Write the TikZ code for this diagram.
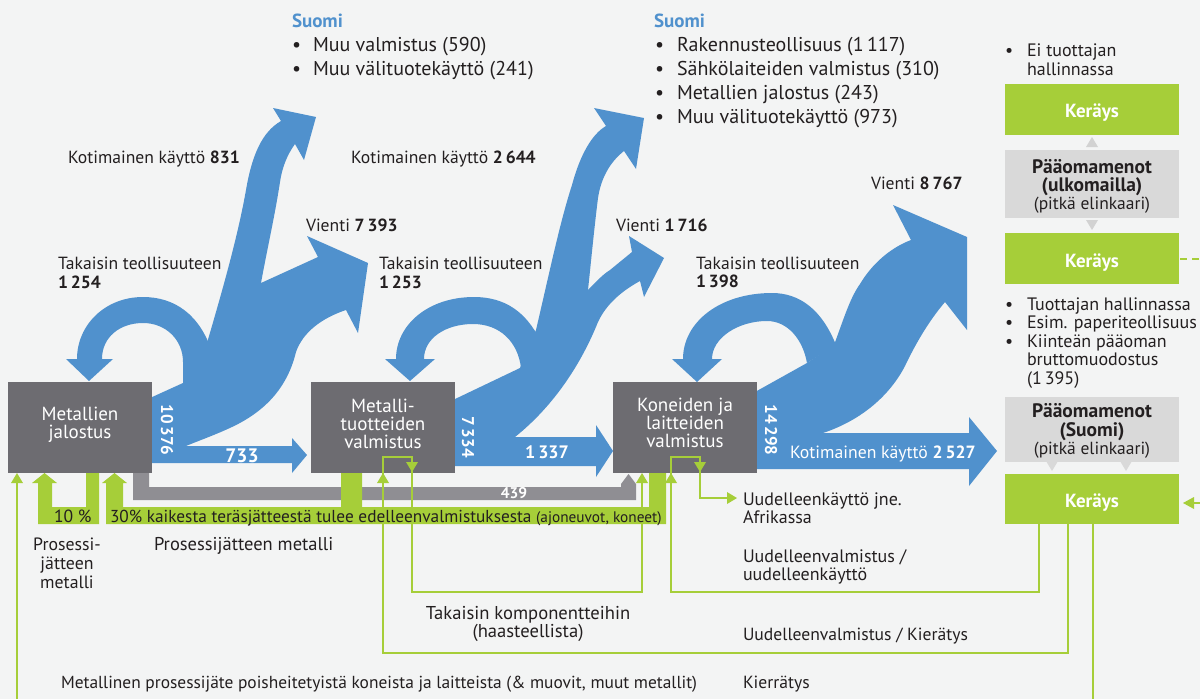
\documentclass[tikz,border=0pt]{standalone}
\usepackage{fontspec}
\setmainfont{PT Sans}
\definecolor{bg}{HTML}{F3F4F4}
\definecolor{fblue}{HTML}{5091CD}
\definecolor{dgrey}{HTML}{6D6C71}
\definecolor{mgrey}{HTML}{8F8E93}
\definecolor{lgrey}{HTML}{D9D9D9}
\definecolor{tgrey}{HTML}{D2D2D2}
\definecolor{fgreen}{HTML}{A6CE39}
\definecolor{txt}{HTML}{231F20}
\newcommand\gup[2]{\fill[fgreen] (#1-6,#2+10) -- (#1,#2) -- (#1+6,#2+10) -- cycle;}
\newcommand\gdown[2]{\fill[fgreen] (#1-6,#2-10) -- (#1,#2) -- (#1+6,#2-10) -- cycle;}
\newcommand\gright[2]{\fill[fgreen] (#1-10,#2-6) -- (#1,#2) -- (#1-10,#2+6) -- cycle;}
\newcommand\fsz[1]{\fontsize{#1}{#1}\selectfont}
\tikzset{
 t/.style={anchor=base west, inner sep=0pt, outer sep=0pt, text=txt},
 lab/.style={t, font=\fsz{17.6}},
 labc/.style={lab, anchor=base},
 lst/.style={t, font=\fsz{20}},
 hd/.style={t, text=fblue, font=\bfseries\fsz{19}},
 rc/.style={t, font=\fsz{18}},
 boxt/.style={t, anchor=base, text=white, font=\fsz{19}},
 num/.style={inner sep=0pt, text=white, font=\bfseries\fsz{17}},
 ker/.style={t, anchor=base, text=white, font=\bfseries\fsz{19}},
 ptx/.style={t, anchor=base, font=\fsz{17.5}},
 ptb/.style={t, anchor=base, font=\bfseries\fsz{19.5}},
 procbox/.style={fill=dgrey, minimum width=144pt, minimum height=91pt, inner sep=0pt},
 kbox/.style={fill=fgreen, minimum width=174pt, inner sep=0pt},
 pbox/.style={fill=lgrey, minimum width=174pt, inner sep=0pt},
 gline/.style={draw=fgreen, line width=2.5pt},
}
\begin{document}
\begin{tikzpicture}[x=1pt,y=-1pt]
\useasboundingbox (0,0) rectangle (1200,699);
\fill[bg] (0,0) rectangle (1200,699);

% ---------- blue flows ----------
\begin{scope}[fblue]
% trunk 1
\fill (150,398) -- (183,383) -- (183,358) -- (207,343)
 .. controls (224,285) and (238,235) .. (246,190)
 .. controls (252,155) and (262,132) .. (281,121)
 -- (273,108) -- (316,117) -- (304,160) -- (295,144)
 .. controls (287,155) and (282,168) .. (280,182)
 .. controls (275,215) and (267,250) .. (261,283)
 -- (318,257) -- (307,236) -- (368,263) -- (358,333) -- (346,310)
 .. controls (322,318) and (303,332) .. (296,352)
 .. controls (288,385) and (268,410) .. (232,427)
 .. controls (215,435) and (198,441) .. (186,446)
 -- (150,446) -- cycle;
\fill (150,446) -- (292,446) -- (292,438) -- (307,455) -- (292,473) -- (292,463) -- (150,463) -- cycle;
\fill (212,352) .. controls (200,315) and (175,297) .. (143,297)
 .. controls (105,297) and (77,325) .. (77,359) -- (66,359) -- (89,381) -- (113,359) -- (102,359)
 .. controls (102,337) and (120,323) .. (143,323)
 .. controls (166,323) and (183,340) .. (183,362) -- cycle;
% trunk 2
\fill (453,400) -- (520,368) -- (536,330)
 .. controls (550,270) and (560,222) .. (572,185)
 .. controls (580,155) and (592,134) .. (606,126)
 -- (594,108) -- (644,118) -- (636,169) -- (624,151)
 .. controls (610,162) and (601,178) .. (598,198)
 .. controls (594,230) and (591,262) .. (588,290)
 .. controls (596,282) and (602,275) .. (610,270)
 -- (632,252) -- (629,236) -- (664,258) -- (644,297) -- (640,281)
 .. controls (620,292) and (606,305) .. (598,322)
 .. controls (582,362) and (555,405) .. (515,437)
 -- (453,437) -- cycle;
\fill (453,437) -- (596,437) -- (596,425) -- (613,451) -- (596,477) -- (596,466) -- (453,466) -- cycle;
\fill (540,340) .. controls (526,312) and (505,297) .. (474,297)
 .. controls (428,297) and (396,325) .. (396,359) -- (385,359) -- (410,381) -- (435,359) -- (424,359)
 .. controls (424,338) and (446,324) .. (473,324)
 .. controls (500,324) and (518,342) .. (521,368) -- cycle;
% trunk 3
\fill (755,392) -- (807,363) -- (834,345)
 .. controls (844,318) and (850,298) .. (860,284)
 .. controls (872,264) and (890,248) .. (911,240)
 -- (893,205) -- (967,237) -- (967,330) -- (945,302)
 .. controls (928,322) and (915,345) .. (905,366)
 .. controls (890,395) and (862,420) .. (823,433)
 -- (755,433) -- cycle;
\fill (755,433) -- (969,433) -- (969,417) -- (997,451) -- (969,486) -- (969,469) -- (755,469) -- cycle;
\fill (836,345) .. controls (822,310) and (800,293) .. (772,293)
 .. controls (720,293) and (683,322) .. (683,359) -- (672,359) -- (697,382) -- (722,359) -- (712,359)
 .. controls (712,338) and (738,321) .. (767,321)
 .. controls (788,321) and (803,340) .. (807,363) -- cycle;
\end{scope}

% ---------- grey bar 439 ----------
\fill[mgrey] (133,471) -- (149,471) -- (149,487) -- (621,487) -- (621,484) -- (628.5,474) -- (636,484) -- (636,500) -- (133,500) -- cycle;

% ---------- green bands ----------
\fill[fgreen] (86,471) -- (99,471) -- (99,524) -- (38,524) -- (38,483) -- (32,483) -- (44.5,473) -- (57,483) -- (52,483) -- (52,507) -- (86,507) -- cycle;
\fill[fgreen] (106,524) -- (106,483) -- (102,483) -- (114.5,473) -- (127,483) -- (123,483) -- (123,507) -- (341,507) -- (341,471) -- (362,471) -- (362,507) -- (649,507) -- (649,471) -- (666,471) -- (666,524) -- cycle;

% ---------- process boxes ----------
\node[procbox] (b1) at (80,427.5) {};
\node[procbox] (b2) at (383,427.5) {};
\node[procbox] (b3) at (685,427.5) {};

% ---------- right column ----------
\node[kbox, minimum height=51pt] (k1) at (1092,109.5) {};
\node[pbox, minimum height=68pt] (p1) at (1092,184) {};
\node[kbox, minimum height=51pt] (k2) at (1092,258.5) {};
\node[pbox, minimum height=65pt] (p2) at (1092,429.5) {};
\node[kbox, minimum height=50pt] (k3) at (1092,499) {};
\fill[tgrey] (1086,147) -- (1092,137) -- (1098,147) -- cycle;
\fill[tgrey] (1086,220) -- (1092,230) -- (1098,220) -- cycle;
\fill[lgrey] (1046,461) -- (1052,471) -- (1058,461) -- cycle;
\fill[lgrey] (1120,461) -- (1126,471) -- (1132,461) -- cycle;

% ---------- thin green connectors ----------
\coordinate (c1) at (1039,524);
\coordinate (c2) at (1068,524);
\coordinate (c3) at (1093,524);
\draw[gline] (c1) -- (1039,592) -- (671,592) -- (671,457) -- (700,457) -- (700,498) -- (729,498);
\gup{671}{473}\gdown{700}{472}\gright{737}{498}
\draw[gline] (c2) -- (1068,653) -- (383,653) -- (383,457) -- (412,457) -- (412,592) -- (642,592) -- (642,480);
\gup{383}{473}\gdown{412}{472}\gup{642}{473}
\draw[gline] (c3) -- (1093,699);
\draw[gline] (17,699) -- (17,480);
\gup{17}{473}
\draw[gline, dash pattern=on 7pt off 5pt] (1180,259) -- (1200,259);
\draw[gline] (1190,503) -- (1200,503);
\fill[fgreen] (1183,503) -- (1194,497) -- (1194,509) -- cycle;

% ---------- top lists ----------
\node[hd] (s1) at (292,27) {Suomi};
\node[lst] (s1a) at (292,51) {•};
\node[lst] (s1b) at (313,51) {Muu valmistus (590)};
\node[lst] (s1c) at (292,75) {•};
\node[lst] (s1d) at (313,75) {Muu välituotekäyttö (241)};
\node[hd] (s2) at (654,27) {Suomi};
\node[lst] (s2a) at (655,51) {•};
\node[lst] (s2b) at (677,51) {Rakennusteollisuus (1\,117)};
\node[lst] (s2c) at (655,75) {•};
\node[lst] (s2d) at (677,75) {Sähkölaiteiden valmistus (310)};
\node[lst] (s2e) at (655,99) {•};
\node[lst] (s2f) at (677,99) {Metallien jalostus (243)};
\node[lst] (s2g) at (655,123) {•};
\node[lst] (s2h) at (677,123) {Muu välituotekäyttö (973)};

% ---------- flow labels ----------
\node[lab] (l1) at (68,163) {Kotimainen käyttö \textbf{831}};
\node[lab] (l2) at (306,231) {Vienti \textbf{7\,393}};
\node[lab] (l3) at (58,269) {Takaisin teollisuuteen};
\node[lab] (l4) at (58,288) {\textbf{1\,254}};
\node[lab] (l5) at (351,163) {Kotimainen käyttö \textbf{2\,644}};
\node[lab] (l6) at (616,231) {Vienti \textbf{1\,716}};
\node[lab] (l7) at (379,269) {Takaisin teollisuuteen};
\node[lab] (l8) at (379,288) {\textbf{1\,253}};
\node[lab] (l9) at (871,189) {Vienti \textbf{8\,767}};
\node[lab] (l10) at (696,269) {Takaisin teollisuuteen};
\node[lab] (l11) at (696,287) {\textbf{1\,398}};

% box texts
\node[boxt] (bt1) at (80,420) {Metallien};
\node[boxt] (bt2) at (80,438) {jalostus};
\node[boxt] (bt3) at (383,412) {Metalli-};
\node[boxt] (bt4) at (383,430) {tuotteiden};
\node[boxt] (bt5) at (383,448) {valmistus};
\node[boxt] (bt6) at (685,411) {Koneiden ja};
\node[boxt] (bt7) at (685,429) {laitteiden};
\node[boxt] (bt8) at (685,447) {valmistus};

% numbers on flows
\node[num, rotate=-90] (n1) at (167,430) {10\,376};
\node[num, rotate=-90] (n2) at (468,437) {7\,334};
\node[num, rotate=-90] (n3) at (771,430) {14\,298};
\node[num, anchor=base, font=\bfseries\fsz{19.5}] (n4) at (242,462) {733};
\node[num, anchor=base, font=\bfseries\fsz{18}] (n5) at (547,458) {1\,337};
\node[lab, text=white, font=\fsz{17.7}] (n6) at (790,458) {Kotimainen käyttö \textbf{2\,527}};
\node[num, anchor=base, font=\bfseries\fsz{15.5}] (n7) at (514,498) {439};

% green band texts
\node[lab] (g1) at (54,522) {10 \%};
\node[lab, font=\fsz{17.3}] (g2) at (110,522) {30\% kaikesta teräsjätteestä tulee edelleenvalmistuksesta {\fsz{15.3}(ajoneuvot, koneet)}};

% bottom texts
\node[labc, font=\fsz{17.8}] (p1a) at (67,550) {Prosessi-};
\node[labc, font=\fsz{17.8}] (p1b) at (67,569) {jätteen};
\node[labc, font=\fsz{17.8}] (p1c) at (67,588) {metalli};
\node[lab, font=\fsz{18.5}] (p2a) at (154,550) {Prosessijätteen metalli};
\node[lab, font=\fsz{17.4}] (p3a) at (61,688) {Metallinen prosessijäte poisheitetyistä koneista ja laitteista (\& muovit, muut metallit)};
\node[labc, font=\fsz{18.6}] (p4a) at (528,619) {Takaisin komponentteihin};
\node[labc, font=\fsz{18.6}] (p4b) at (528,637) {(haasteellista)};
\node[lab, font=\fsz{18}] (r1) at (743,505) {Uudelleenkäyttö jne.};
\node[lab, font=\fsz{18}] (r2) at (743,523) {Afrikassa};
\node[lab, font=\fsz{18}] (r3) at (743,562) {Uudelleenvalmistus /};
\node[lab, font=\fsz{18}] (r4) at (743,580) {uudelleenkäyttö};
\node[lab] (r5) at (743,640) {Uudelleenvalmistus / Kierätys};
\node[lab] (r6) at (743,688) {Kierrätys};

% right column texts
\node[rc] (e0) at (1005,56) {•};
\node[rc] (e1) at (1027,56) {Ei tuottajan};
\node[rc] (e2) at (1027,75) {hallinnassa};
\node[ker] (kt1) at (1092,117) {Keräys};
\node[ptb] (pt1) at (1092,173) {Pääomamenot};
\node[ptb] (pt2) at (1092,191) {(ulkomailla)};
\node[ptx] (pt3) at (1092,209) {(pitkä elinkaari)};
\node[ker] (kt2) at (1092,267) {Keräys};
\node[rc] (f0) at (1005,310) {•};
\node[rc] (f1) at (1027,310) {Tuottajan hallinnassa};
\node[rc] (f2) at (1005,328.5) {•};
\node[rc] (f3) at (1027,328.5) {Esim. paperiteollisuus};
\node[rc] (f4) at (1005,347) {•};
\node[rc] (f5) at (1027,347) {Kiinteän pääoman};
\node[rc] (f6) at (1027,365.5) {bruttomuodostus};
\node[rc] (f7) at (1027,384) {(1\,395)};
\node[ptb] (pt4) at (1092,417) {Pääomamenot};
\node[ptb] (pt5) at (1092,436) {(Suomi)};
\node[ptx] (pt6) at (1092,454) {(pitkä elinkaari)};
\node[ker] (kt3) at (1092,507) {Keräys};
\end{tikzpicture}
\end{document}
